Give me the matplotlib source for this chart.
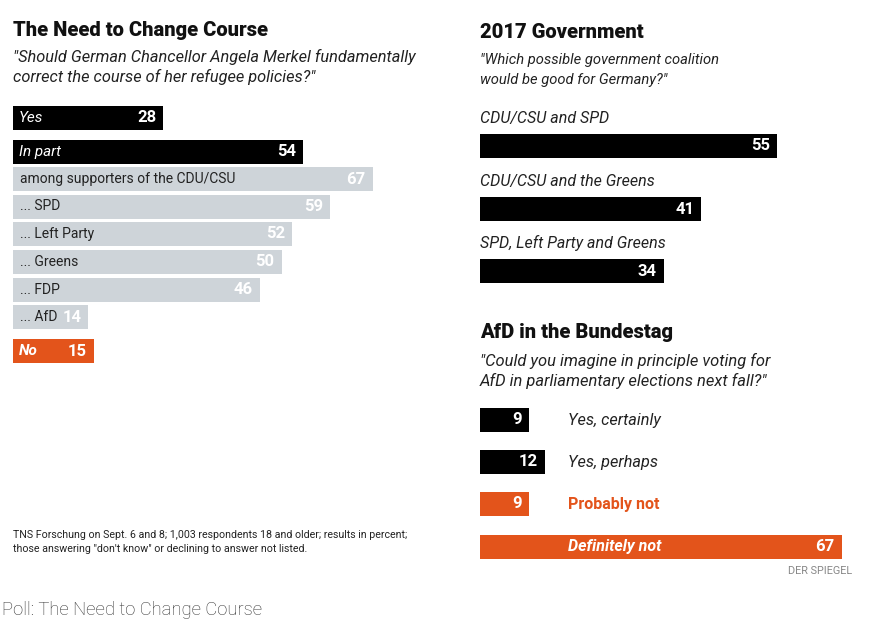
import matplotlib.pyplot as plt

# "The Need to Change Course" (percent)
course_labels = ['Yes', 'In part', 'among supporters of the CDU/CSU', '... SPD',
                 '... Left Party', '... Greens', '... FDP', '... AfD', 'No']
course_values = [28, 54, 67, 59, 52, 50, 46, 14, 15]
course_kind = ['main', 'main', 'sub', 'sub', 'sub', 'sub', 'sub', 'sub', 'no']

# "2017 Government"
gov_labels = ['CDU/CSU and SPD', 'CDU/CSU and the Greens', 'SPD, Left Party and Greens']
gov_values = [55, 41, 34]

# "AfD in the Bundestag"
afd_labels = ['Yes, certainly', 'Yes, perhaps', 'Probably not', 'Definitely not']
afd_values = [9, 12, 9, 67]
afd_kind = ['yes', 'yes', 'no', 'no']

BLACK = '#000000'
GREY = '#ced4d9'
ORANGE = '#e3541b'
FONT = ['Roboto', 'DejaVu Sans']

W, H = 877, 626
fig = plt.figure(figsize=(W / 100, H / 100), dpi=100, facecolor='white')


def bar_axes(x0, px_per_unit):
    ax = fig.add_axes([x0 / W, 0, 100 * px_per_unit / W, 1])
    ax.set_xlim(0, 100)
    ax.set_ylim(H, 0)
    ax.axis('off')
    return ax


axL = bar_axes(13, 5.37)
axR = bar_axes(480, 5.4)

# full-figure axes in pixel units for headings and notes, on top of the bars
txt = fig.add_axes([0, 0, 1, 1])
txt.set_xlim(0, W)
txt.set_ylim(H, 0)
txt.axis('off')
txt.set_zorder(10)


def heading(x, y, s):
    txt.text(x, y, s, family=FONT, weight='heavy', size=14.5, va='center', color='#111')


def lines(x, y0, step, rows, size):
    for i, r in enumerate(rows):
        txt.text(x, y0 + i * step, r, family=FONT, style='italic', size=size,
                 va='center', color='#222')


# ---- left panel ----
heading(13, 30, 'The Need to Change Course')
lines(13, 57, 20, ['"Should German Chancellor Angela Merkel fundamentally',
                   'correct the course of her refugee policies?"'], 11.8)

course_y = [118, 152, 179, 206.5, 234, 261.5, 289.5, 317, 351]
colors = {'main': BLACK, 'sub': GREY, 'no': ORANGE}
axL.barh(course_y, course_values, height=24, color=[colors[k] for k in course_kind])
for lab, v, y, k in zip(course_labels, course_values, course_y, course_kind):
    if k == 'sub':
        axL.annotate(lab, (0, y), xytext=(5, 0), textcoords='offset points', va='center',
                     family=FONT, size=10, color='#222')
    else:
        axL.annotate(lab, (0, y), xytext=(4, 0), textcoords='offset points', va='center',
                     family=FONT, size=11, style='italic', color='white',
                     weight='bold' if k == 'no' else 'normal')
    axL.annotate(str(v), (v, y), xytext=(-5, 0), textcoords='offset points', va='center',
                 ha='right', family=FONT, weight='bold', size=12, color='white')

txt.text(13, 535, 'TNS Forschung on Sept. 6 and 8; 1,003 respondents 18 and older; '
         'results in percent;', family=FONT, size=7.65, va='center', color='#222')
txt.text(13, 549, 'those answering "don\'t know" or declining to answer not listed.',
         family=FONT, size=7.65, va='center', color='#222')

txt.text(2, 610, 'Poll: The Need to Change Course', family=FONT, size=13.3, va='center',
         color='#333', weight='light')

# ---- right panel: 2017 Government ----
heading(480, 33, '2017 Government')
lines(480, 60, 20, ['"Which possible government coalition', 'would be good for Germany?"'], 10.6)

gov_y = [146, 209, 271]
axR.barh(gov_y, gov_values, height=24, color=BLACK)
for lab, v, y in zip(gov_labels, gov_values, gov_y):
    axR.annotate(lab, (0, y), xytext=(0, 20), textcoords='offset points', va='center',
                 family=FONT, style='italic', size=11.5, color='#222')
    axR.annotate(str(v), (v, y), xytext=(-5, 0), textcoords='offset points', va='center',
                 ha='right', family=FONT, weight='bold', size=12, color='white')

# ---- right panel: AfD in the Bundestag ----
heading(480, 333, 'AfD in the Bundestag')
lines(480, 361, 20, ['"Could you imagine in principle voting for',
                     'AfD in parliamentary elections next fall?"'], 11.9)

afd_y = [420, 462, 504, 546.5]
axR.barh(afd_y, afd_values, height=24,
         color=[BLACK if k == 'yes' else ORANGE for k in afd_kind])
for lab, v, y, k in zip(afd_labels, afd_values, afd_y, afd_kind):
    axR.annotate(str(v), (v, y), xytext=(-5, 0), textcoords='offset points', va='center',
                 ha='right', family=FONT, weight='bold', size=12, color='white')
    if lab == 'Definitely not':
        txt.text(568, y, lab, family=FONT, style='italic', weight='bold', size=11.5,
                 va='center', color='white')
    elif k == 'no':
        txt.text(568, y, lab, family=FONT, weight='bold', size=11.5, va='center', color=ORANGE)
    else:
        txt.text(568, y, lab, family=FONT, style='italic', size=11.7, va='center', color='#222')

txt.text(852, 571, 'DER SPIEGEL', family=FONT, size=7.8, ha='right', va='center', color='#888')

fig.savefig('out.png', dpi=100, facecolor='white')
